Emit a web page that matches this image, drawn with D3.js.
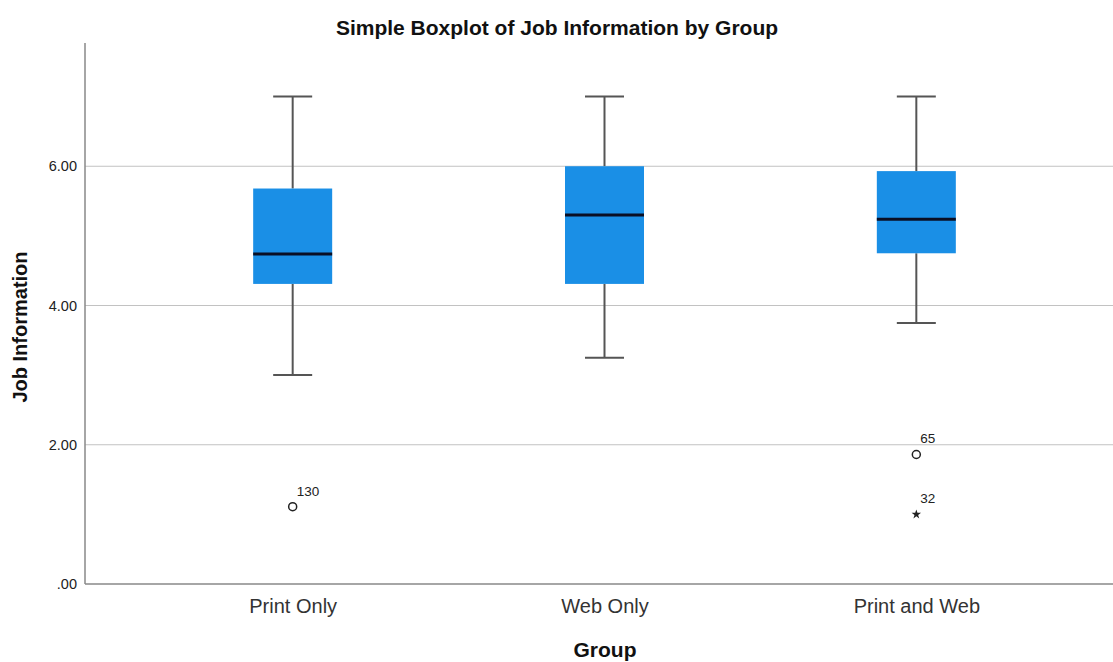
<!DOCTYPE html>
<html>
<head>
<meta charset="utf-8">
<script src="https://d3js.org/d3.v7.min.js"></script>
<style>
  body { margin: 0; background: #fff; }
  text { font-family: "Liberation Sans", Arial, sans-serif; }
</style>
</head>
<body>
<div id="chart"></div>
<script>
// values
var groups = ["Print Only", "Web Only", "Print and Web"];
var whiskerLow = [3.0, 3.25, 3.75];
var q1 = [4.31, 4.31, 4.75];
var median = [4.74, 5.30, 5.24];
var q3 = [5.68, 6.0, 5.93];
var whiskerHigh = [7.0, 7.0, 7.0];
var outlierGroup = ["Print Only", "Print and Web", "Print and Web"];
var outlierValue = [1.11, 1.86, 1.0];
var outlierId = ["130", "65", "32"];
var outlierExtreme = [false, false, true];
var yTicks = [0, 2, 4, 6];

var W = 1113, H = 662;
var margin = {top: 43, left: 85, bottom: 78};
var plotW = 1039; // runs a bit past the window edge
var plotH = H - margin.top - margin.bottom;

var svg = d3.select("#chart").append("svg")
  .attr("width", W).attr("height", H);

var g = svg.append("g")
  .attr("transform", "translate(" + margin.left + "," + margin.top + ")");

var x = d3.scalePoint().domain(groups).range([0, plotW]).padding(0.666);
var y = d3.scaleLinear().domain([0, 7.77]).range([plotH, 0]);
var boxW = 79, capW = 39;

// gridlines
g.selectAll(".grid").data(yTicks.filter(function(d) { return d > 0; }))
  .enter().append("line")
    .attr("x1", 0).attr("x2", plotW)
    .attr("y1", function(d) { return y(d); })
    .attr("y2", function(d) { return y(d); })
    .style("stroke", "#c2c2c2").style("stroke-width", 1.2);

// y axis
var fmt = function(d) { return d3.format(".2f")(d).replace(/^0/, ""); };
var yAxis = g.append("g").call(d3.axisLeft(y).tickValues(yTicks).tickFormat(fmt).tickSize(0).tickPadding(8));
yAxis.select(".domain").remove();
yAxis.selectAll("text").style("font-size", "14.5px").style("fill", "#222").attr("font-family", null);

// axis lines
g.append("line").attr("x1", 0).attr("x2", 0).attr("y1", 0).attr("y2", plotH)
  .style("stroke", "#888").style("stroke-width", 1.5);
g.append("line").attr("x1", 0).attr("x2", plotW).attr("y1", plotH).attr("y2", plotH)
  .style("stroke", "#888").style("stroke-width", 1.5);

// x axis labels
var xAxis = g.append("g").attr("transform", "translate(0," + plotH + ")")
  .call(d3.axisBottom(x).tickSize(0).tickPadding(15));
xAxis.select(".domain").remove();
xAxis.selectAll("text").style("font-size", "20px").style("fill", "#333").attr("font-family", null);

// boxes
groups.forEach(function(grp, i) {
  var cx = x(grp);
  var b = g.append("g");
  b.append("line").attr("x1", cx).attr("x2", cx)
    .attr("y1", y(whiskerHigh[i])).attr("y2", y(q3[i]))
    .style("stroke", "#555").style("stroke-width", 2);
  b.append("line").attr("x1", cx).attr("x2", cx)
    .attr("y1", y(q1[i])).attr("y2", y(whiskerLow[i]))
    .style("stroke", "#555").style("stroke-width", 2);
  b.append("line").attr("x1", cx - capW / 2).attr("x2", cx + capW / 2)
    .attr("y1", y(whiskerHigh[i])).attr("y2", y(whiskerHigh[i]))
    .style("stroke", "#555").style("stroke-width", 2);
  b.append("line").attr("x1", cx - capW / 2).attr("x2", cx + capW / 2)
    .attr("y1", y(whiskerLow[i])).attr("y2", y(whiskerLow[i]))
    .style("stroke", "#555").style("stroke-width", 2);
  b.append("rect").attr("x", cx - boxW / 2).attr("width", boxW)
    .attr("y", y(q3[i])).attr("height", y(q1[i]) - y(q3[i]))
    .style("fill", "#1a8fe6");
  b.append("line").attr("x1", cx - boxW / 2).attr("x2", cx + boxW / 2)
    .attr("y1", y(median[i])).attr("y2", y(median[i]))
    .style("stroke", "#0a0f24").style("stroke-width", 3);
});

// outliers
outlierValue.forEach(function(v, i) {
  var cx = x(outlierGroup[i]), cy = y(v);
  if (outlierExtreme[i]) {
    g.append("path").attr("d", d3.symbol().type(d3.symbolStar).size(28)())
      .attr("transform", "translate(" + cx + "," + cy + ")")
      .style("fill", "#222");
  } else {
    g.append("circle").attr("cx", cx).attr("cy", cy).attr("r", 4)
      .style("fill", "#fff").style("stroke", "#222").style("stroke-width", 1.5);
  }
  g.append("text").attr("x", cx + 4).attr("y", cy - 11)
    .text(outlierId[i]).style("font-size", "13.5px").style("fill", "#222");
});

// titles
svg.append("text").attr("x", 557).attr("y", 35).attr("text-anchor", "middle")
  .text("Simple Boxplot of Job Information by Group")
  .style("font-size", "21px").style("font-weight", "bold").style("fill", "#111");
svg.append("text").attr("x", 605).attr("y", 657).attr("text-anchor", "middle")
  .text("Group").style("font-size", "21px").style("font-weight", "bold").style("fill", "#111");
svg.append("text").attr("transform", "translate(27,327) rotate(-90)").attr("text-anchor", "middle")
  .text("Job Information").style("font-size", "20px").style("font-weight", "bold").style("fill", "#111");
</script>
</body>
</html>
